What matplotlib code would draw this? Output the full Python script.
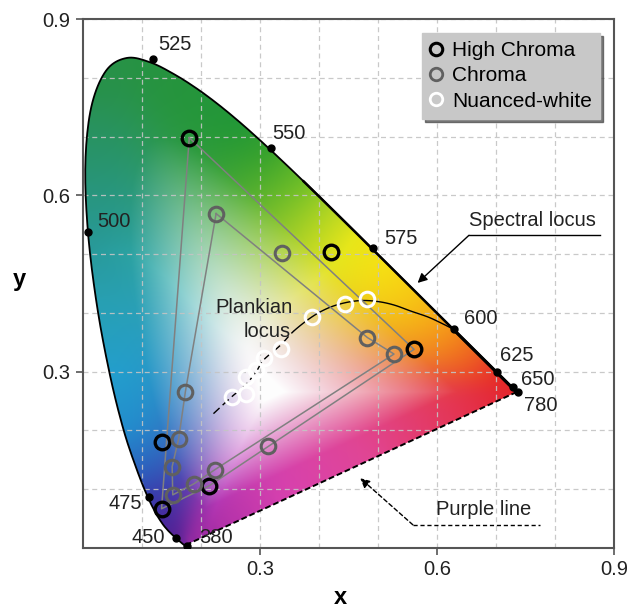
import numpy as np
import matplotlib
matplotlib.use("Agg")
import matplotlib.pyplot as plt
from matplotlib.patches import Polygon
from matplotlib.lines import Line2D

plt.rcParams['font.family'] = ['Liberation Sans', 'DejaVu Sans']

# CIE 1931 2-degree spectral locus (chromaticity x, y)
locus_wl = [380, 385, 390, 395, 400, 405, 410, 415, 420, 425, 430, 435, 440, 445, 450, 455,
            460, 465, 470, 475, 480, 485, 490, 495, 500, 505, 510, 515, 520, 525, 530, 535,
            540, 545, 550, 555, 560, 565, 570, 575, 580, 585, 590, 595, 600, 605, 610, 615,
            620, 625, 630, 635, 640, 645, 650, 655, 660, 665, 670, 675, 680, 685, 690, 695,
            700, 780]
locus_x = [0.1741, 0.1740, 0.1738, 0.1736, 0.1733, 0.1730, 0.1726, 0.1721, 0.1714, 0.1703,
           0.1689, 0.1669, 0.1644, 0.1611, 0.1566, 0.1510, 0.1440, 0.1355, 0.1241, 0.1096,
           0.0913, 0.0687, 0.0454, 0.0235, 0.0082, 0.0039, 0.0139, 0.0389, 0.0743, 0.1142,
           0.1547, 0.1929, 0.2296, 0.2658, 0.3016, 0.3373, 0.3731, 0.4087, 0.4441, 0.4788,
           0.5125, 0.5448, 0.5752, 0.6029, 0.6270, 0.6482, 0.6658, 0.6801, 0.6915, 0.7006,
           0.7079, 0.7140, 0.7190, 0.7230, 0.7260, 0.7283, 0.7300, 0.7311, 0.7320, 0.7327,
           0.7334, 0.7340, 0.7344, 0.7346, 0.7347, 0.7347]
locus_y = [0.0050, 0.0050, 0.0049, 0.0049, 0.0048, 0.0048, 0.0048, 0.0048, 0.0051, 0.0058,
           0.0069, 0.0086, 0.0109, 0.0138, 0.0177, 0.0227, 0.0297, 0.0399, 0.0578, 0.0868,
           0.1327, 0.2007, 0.2950, 0.4127, 0.5384, 0.6548, 0.7502, 0.8120, 0.8338, 0.8262,
           0.8059, 0.7816, 0.7543, 0.7243, 0.6923, 0.6589, 0.6245, 0.5896, 0.5547, 0.5202,
           0.4866, 0.4544, 0.4242, 0.3965, 0.3725, 0.3514, 0.3340, 0.3197, 0.3083, 0.2993,
           0.2920, 0.2859, 0.2809, 0.2770, 0.2740, 0.2717, 0.2700, 0.2689, 0.2680, 0.2673,
           0.2666, 0.2660, 0.2656, 0.2654, 0.2653, 0.2653]

# labelled wavelength dots
mark_labels = ['525', '550', '575', '600', '625', '650', '780', '500', '475', '450', '380']
mark_x = [0.119, 0.319, 0.492, 0.629, 0.702, 0.729, 0.737, 0.0085, 0.112, 0.158, 0.176]
mark_y = [0.832, 0.681, 0.511, 0.373, 0.300, 0.274, 0.265, 0.538, 0.0865, 0.0174, 0.004]

# Planckian locus (as drawn)
planck_x = [0.221, 0.2516, 0.2754, 0.294, 0.306, 0.335, 0.357, 0.3876, 0.4148, 0.442, 0.471,
            0.4998, 0.527, 0.5558, 0.5847, 0.6068, 0.627]
planck_y = [0.2286, 0.257, 0.2774, 0.301, 0.320, 0.3454, 0.369, 0.393, 0.408, 0.4168, 0.421,
            0.4193, 0.4134, 0.403, 0.393, 0.3828, 0.3726]
planck_dash_n = 7

# samples
hc_x = [0.180, 0.420, 0.561, 0.214, 0.133, 0.133]
hc_y = [0.698, 0.504, 0.338, 0.106, 0.0667, 0.181]
ch_x = [0.2255, 0.3366, 0.482, 0.527, 0.314, 0.223, 0.1875, 0.152, 0.151, 0.162, 0.1734]
ch_y = [0.569, 0.502, 0.358, 0.330, 0.174, 0.133, 0.109, 0.0904, 0.1385, 0.1856, 0.266]
nw_x = [0.482, 0.4435, 0.3876, 0.336, 0.3065, 0.2936, 0.2754, 0.2765, 0.2527]
nw_y = [0.4236, 0.4145, 0.3935, 0.3386, 0.3228, 0.303, 0.2905, 0.262, 0.2575]

# polygons (indices)
hc_poly = [0, 2, 3, 4, 0]
ch_poly = [0, 2, 3, 5, 6, 7, 8, 9, 10, 0]


def catmull(xs, ys, n=8):
    p = np.column_stack([xs, ys]).astype(float)
    p = np.vstack([p[0], p, p[-1]])
    out = []
    for i in range(1, len(p) - 2):
        p0, p1, p2, p3 = p[i - 1], p[i], p[i + 1], p[i + 2]
        for t in np.linspace(0, 1, n, endpoint=False):
            t2, t3 = t * t, t * t * t
            out.append(0.5 * ((2 * p1) + (-p0 + p2) * t + (2 * p0 - 5 * p1 + 4 * p2 - p3) * t2
                              + (-p0 + 3 * p1 - 3 * p2 + p3) * t3))
    out.append(p[-2])
    return np.array(out)


i700 = locus_wl.index(700)
sm = catmull(locus_x[:i700 + 1], locus_y[:i700 + 1], 10)
sm_wl = np.interp(np.linspace(0, i700, len(sm)), np.arange(i700 + 1), locus_wl[:i700 + 1])

fig = plt.figure(figsize=(6.39, 6.08), dpi=100)
ax = fig.add_axes([0.130, 0.0987, 0.831, 0.870])

# ---- colour fill: boundary colours diffused inward, fading to white at the centre ----
edge_wl = [380, 440, 455, 468, 475, 480, 485, 490, 495, 500, 505, 512, 530, 545, 552, 560,
           567, 573, 580, 588, 597, 606, 618, 630, 700]
edge_rgb = np.array([(140, 40, 160), (105, 38, 155), (85, 35, 150), (70, 42, 158),
                     (58, 60, 172), (45, 98, 190), (35, 140, 205), (35, 158, 205),
                     (40, 160, 180), (40, 152, 145), (40, 148, 110), (40, 145, 75),
                     (38, 148, 62), (35, 152, 55), (55, 162, 45), (110, 190, 40),
                     (180, 214, 35), (232, 230, 25), (246, 225, 20), (247, 200, 20),
                     (246, 160, 25), (240, 115, 30), (234, 65, 40), (230, 42, 42),
                     (228, 36, 42)]) / 255.0
purple_t = [0.0, 0.2, 0.45, 0.7, 0.88, 1.0]
purple_rgb = np.array([(228, 36, 42), (228, 55, 90), (225, 70, 150), (215, 65, 175),
                       (180, 50, 170), (140, 40, 160)]) / 255.0

bx = list(sm[:, 0])
by = list(sm[:, 1])
bc = [np.array([np.interp(w, edge_wl, edge_rgb[:, k]) for k in range(3)]) for w in sm_wl]
for t in np.linspace(0, 1, 60)[1:-1]:
    bx.append(locus_x[-1] + (locus_x[0] - locus_x[-1]) * t)
    by.append(locus_y[-1] + (locus_y[0] - locus_y[-1]) * t)
    bc.append(np.array([np.interp(t, purple_t, purple_rgb[:, k]) for k in range(3)]))
bx = np.array(bx); by = np.array(by); bc = np.array(bc)
seg = np.hypot(np.diff(bx, append=bx[0]), np.diff(by, append=by[0]))
sel = np.arange(0, len(bx), 2)
bx2, by2, bc2, sg2 = bx[sel], by[sel], bc[sel], seg[sel] * 2
bmax = bc2.max(1)

W = (0.315, 0.265)
ang = np.arctan2(by - W[1], bx - W[0])
rad = np.hypot(bx - W[0], by - W[1])
order = np.argsort(ang)
ang_s, rad_s = ang[order], rad[order]
ang_ext = np.concatenate([ang_s - 2 * np.pi, ang_s, ang_s + 2 * np.pi])
rad_ext = np.concatenate([rad_s, rad_s, rad_s])

N = 300
gx = np.linspace(0, 0.8, N)
gy = np.linspace(0, 0.9, N)
img = np.ones((N, N, 3))
pw = 3.5
for r in range(N):
    yy = gy[r]
    d = np.hypot(gx[:, None] - bx2[None, :], yy - by2[None, :]) + 0.006
    w = sg2[None, :] / d ** pw
    ws = w.sum(1, keepdims=True)
    col = (w @ bc2) / ws
    target = (w @ bmax)[:, None] / ws
    col = col * target / np.maximum(col.max(1, keepdims=True), 1e-6)
    A = np.arctan2(yy - W[1], gx - W[0])
    R = np.hypot(gx - W[0], yy - W[1])
    frac = np.clip(R / np.interp(A, ang_ext, rad_ext), 0, 1.2)
    s = np.clip((frac - 0.06) / 0.7, 0, 1) ** 0.9
    img[r] = 0.995 * (1 - s[:, None]) + col * s[:, None]
img = np.clip(img, 0, 1)

poly_pts = np.vstack([sm, [[locus_x[0], locus_y[0]]]])
poly = Polygon(poly_pts, closed=True, facecolor='none', edgecolor='none',
               transform=ax.transData)
ax.add_patch(poly)
im = ax.imshow(img, origin='lower', extent=[0, 0.8, 0, 0.9], interpolation='bilinear',
               zorder=0, aspect='auto')
im.set_clip_path(poly)

# locus line
ax.plot(sm[:, 0], sm[:, 1], color='black', lw=1.3, zorder=3)
k560 = np.searchsorted(sm_wl, 560)
k600 = np.searchsorted(sm_wl, 600)
ax.plot(sm[k560:, 0], sm[k560:, 1], color='black', lw=1.8, zorder=3, solid_capstyle='round')
ax.plot(sm[k600:, 0], sm[k600:, 1], color='black', lw=2.3, zorder=3, solid_capstyle='round')
ax.plot([locus_x[0], locus_x[-1]], [locus_y[0], locus_y[-1]], color='black', lw=1.4,
        ls=(0, (3, 1.5)), zorder=3)

# Planckian locus
pl = catmull(planck_x, planck_y, 6)
cut = (planck_dash_n - 1) * 6
ax.plot(pl[:cut + 1, 0], pl[:cut + 1, 1], color='black', lw=1.0, ls=(0, (6, 3)), zorder=3)
ax.plot(pl[cut:, 0], pl[cut:, 1], color='black', lw=1.0, zorder=3)

# connecting polygons
ax.plot([hc_x[i] for i in hc_poly], [hc_y[i] for i in hc_poly], color='#808080', lw=1.1,
        zorder=3)
ax.plot([ch_x[i] for i in ch_poly], [ch_y[i] for i in ch_poly], color='#808080', lw=1.1,
        zorder=3)

# wavelength dots and labels
ax.plot(mark_x, mark_y, 'o', color='black', ms=5, zorder=5, ls='none')
lab_pos = {'525': (0.128, 0.857, 'left'), '550': (0.32, 0.706, 'left'),
           '575': (0.51, 0.527, 'left'), '600': (0.646, 0.391, 'left'),
           '625': (0.707, 0.327, 'left'), '650': (0.743, 0.286, 'left'),
           '780': (0.748, 0.243, 'left'), '500': (0.024, 0.556, 'left'),
           '475': (0.100, 0.075, 'right'), '450': (0.139, 0.018, 'right'),
           '380': (0.197, 0.018, 'left')}
for lab in mark_labels:
    px, py, ha = lab_pos[lab]
    ax.text(px, py, lab, fontsize=14.5, ha=ha, va='center', color='#222222', zorder=6)

# samples
ms = 10.5
ax.plot(hc_x, hc_y, 'o', ms=ms, mfc='none', mec='black', mew=2.4, ls='none', zorder=6)
ax.plot(ch_x, ch_y, 'o', ms=ms, mfc='none', mec='#606060', mew=2.2, ls='none', zorder=6)
ax.plot(nw_x, nw_y, 'o', ms=ms, mfc='none', mec='white', mew=2.2, ls='none', zorder=6)

# annotations
ax.text(0.355, 0.41, 'Plankian', fontsize=14.5, ha='right', va='center', color='#222222',
        zorder=6)
ax.text(0.352, 0.369, 'locus', fontsize=14.5, ha='right', va='center', color='#222222',
        zorder=6)

ax.text(0.654, 0.558, 'Spectral locus', fontsize=14.5, ha='left', va='center',
        color='#222222')
ax.plot([0.654, 0.876], [0.532, 0.532], color='black', lw=1.0)
ax.annotate('', xy=(0.567, 0.451), xytext=(0.654, 0.532),
            arrowprops=dict(arrowstyle='-|>', color='black', lw=1.0, mutation_scale=14,
                            shrinkA=0, shrinkB=0))

ax.text(0.598, 0.065, 'Purple line', fontsize=14.5, ha='left', va='center', color='#222222')
ax.plot([0.559, 0.774], [0.0394, 0.0394], color='black', lw=1.0, ls=(0, (3, 2)))
ax.annotate('', xy=(0.4697, 0.1188), xytext=(0.559, 0.0394),
            arrowprops=dict(arrowstyle='-|>', color='black', lw=1.0, ls=(0, (3, 2)),
                            mutation_scale=14, shrinkA=0, shrinkB=0))

# axes styling
ax.set_xlim(0, 0.9)
ax.set_ylim(0, 0.9)
ax.set_xticks([0.3, 0.6, 0.9])
ax.set_yticks([0.3, 0.6, 0.9])
ax.set_xticklabels(['0.3', '0.6', '0.9'])
ax.set_yticklabels(['0.3', '0.6', '0.9'])
ax.set_xticks(np.arange(0.1, 0.85, 0.1), minor=True)
ax.set_yticks(np.arange(0.1, 0.85, 0.1), minor=True)
ax.tick_params(which='minor', length=0)
ax.tick_params(which='major', direction='out', length=5, width=1.2, color='#555555',
               labelsize=14.5, labelcolor='#222222', pad=4)
ax.set_axisbelow('line')
ax.grid(which='both', color='#c4c4c4', ls=(0, (4, 3)), lw=0.9, alpha=0.9)
for sp in ax.spines.values():
    sp.set_color('#555555')
    sp.set_linewidth(1.5)

fig.text(0.030, 0.54, 'y', fontsize=17, fontweight='bold', ha='center', va='center')
fig.text(0.532, 0.018, 'x', fontsize=17, fontweight='bold', ha='center', va='center')

handles = [Line2D([], [], marker='o', ls='none', ms=9, mfc='none', mec='black', mew=2.2),
           Line2D([], [], marker='o', ls='none', ms=9, mfc='none', mec='#606060', mew=2.0),
           Line2D([], [], marker='o', ls='none', ms=9, mfc='none', mec='white', mew=2.0)]
leg = ax.legend(handles, ['High Chroma', 'Chroma', 'Nuanced-white'], loc='upper right',
                bbox_to_anchor=(0.974, 0.974), borderaxespad=0, fontsize=15,
                frameon=True, fancybox=False, facecolor='#c8c8c8', edgecolor='#c8c8c8',
                framealpha=1, handlelength=0.6, handletextpad=0.45, labelspacing=0.3,
                borderpad=0.4, shadow={'color': '#444444', 'alpha': 0.7})
leg.set_zorder(10)

fig.savefig('out.png', dpi=100)
